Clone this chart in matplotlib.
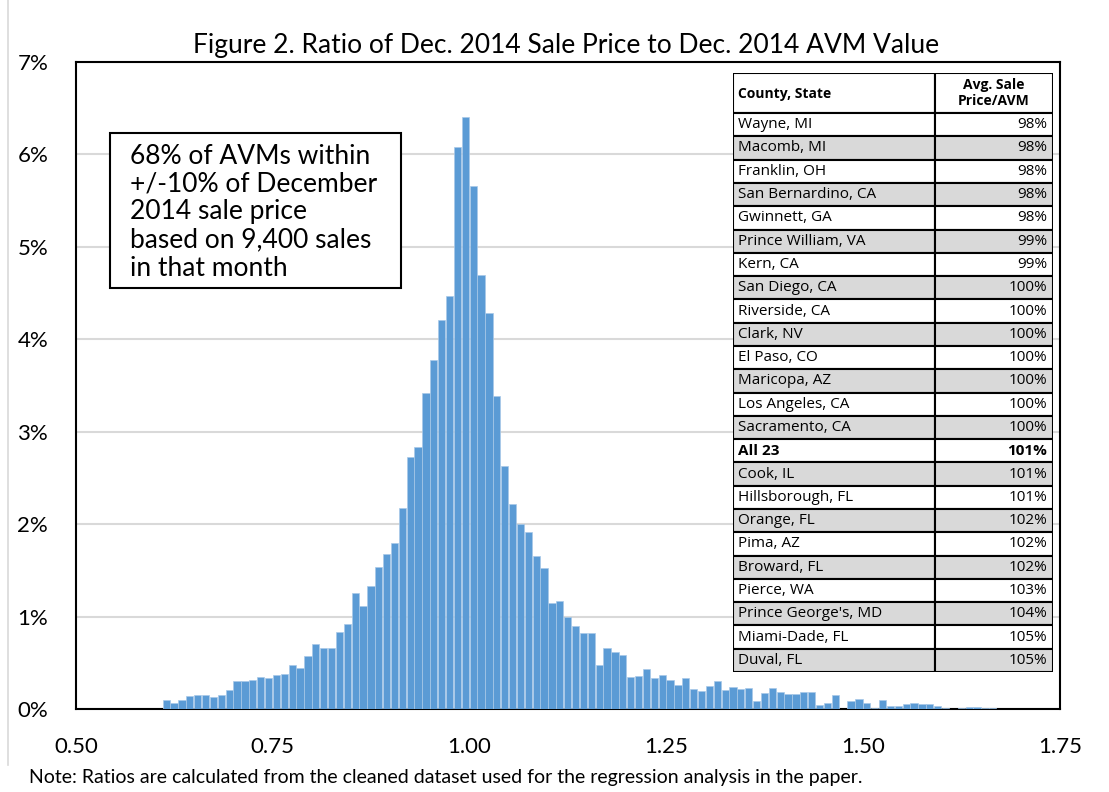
import numpy as np
import matplotlib
matplotlib.use("Agg")
import matplotlib.pyplot as plt
from matplotlib.patches import Rectangle

plt.rcParams['font.family'] = ['Lato', 'DejaVu Sans']

# histogram: lower edge of each 0.01-wide ratio bin and share of sales (%)
bin_width = 0.01
bin_lower = np.round(np.arange(0.61, 1.665, bin_width), 2)
share_pct = [0.10, 0.06, 0.10, 0.14, 0.15, 0.15, 0.13, 0.15, 0.21, 0.30,
             0.30, 0.31, 0.345, 0.335, 0.365, 0.375, 0.48, 0.44, 0.575, 0.70,
             0.665, 0.665, 0.835, 0.925, 1.25, 1.11, 1.335, 1.535, 1.68, 1.80,
             2.18, 2.73, 2.83, 3.42, 3.78, 4.21, 4.47, 6.08, 6.41, 5.66,
             4.70, 4.28, 3.39, 2.63, 2.22, 2.00, 1.92, 1.65, 1.53, 1.15,
             1.17, 1.00, 0.90, 0.82, 0.82, 0.48, 0.66, 0.62, 0.585, 0.35,
             0.36, 0.435, 0.34, 0.37, 0.315, 0.26, 0.335, 0.22, 0.19, 0.25,
             0.30, 0.21, 0.24, 0.22, 0.23, 0.09, 0.17, 0.23, 0.185, 0.165,
             0.165, 0.18, 0.18, 0.045, 0.07, 0.15, 0.005, 0.09, 0.105, 0.07,
             0.015, 0.095, 0.035, 0.035, 0.055, 0.07, 0.055, 0.055, 0.035, 0.008,
             0.0, 0.015, 0.025, 0.025, 0.008, 0.008]

x_ticks = [0.50, 0.75, 1.00, 1.25, 1.50, 1.75]
y_ticks = [0, 1, 2, 3, 4, 5, 6, 7]

counties = ["Wayne, MI", "Macomb, MI", "Franklin, OH", "San Bernardino, CA",
            "Gwinnett, GA", "Prince William, VA", "Kern, CA", "San Diego, CA",
            "Riverside, CA", "Clark, NV", "El Paso, CO", "Maricopa, AZ",
            "Los Angeles, CA", "Sacramento, CA", "All 23", "Cook, IL",
            "Hillsborough, FL", "Orange, FL", "Pima, AZ", "Broward, FL",
            "Pierce, WA", "Prince George's, MD", "Miami-Dade, FL", "Duval, FL"]
avg_ratio = [98, 98, 98, 98, 98, 99, 99, 100, 100, 100, 100, 100,
             100, 100, 101, 101, 101, 102, 102, 102, 103, 104, 105, 105]

W, H = 1109, 792
fig = plt.figure(figsize=(W / 100, H / 100), dpi=100)

def fx(px):
    return px / W

def fy(py):
    return 1 - py / H

ax = fig.add_axes([fx(76), fy(709), fx(1060) - fx(76), fy(62) - fy(709)])
ax.bar(bin_lower, share_pct, width=bin_width * 0.92, align='edge', color='#5B9BD5',
       edgecolor='#A9C9E8', linewidth=0.5, zorder=3)
ax.set_xlim(0.5, 1.75)
ax.set_ylim(0, 7)
ax.set_xticks(x_ticks)
ax.set_xticklabels([f"{v:.2f}" for v in x_ticks], fontsize=16)
ax.set_yticks(y_ticks)
ax.set_yticklabels([f"{v}%" for v in y_ticks], fontsize=16)
ax.tick_params(axis='y', length=0, pad=20)
ax.tick_params(axis='x', length=0, pad=20)
ax.grid(axis='y', color='#D9D9D9', linewidth=1.5, zorder=0)
for s in ax.spines.values():
    s.set_color('black')
    s.set_linewidth(1.5)

fig.text(fx(566), fy(45), "Figure 2. Ratio of Dec. 2014 Sale Price to Dec. 2014 AVM Value",
         ha='center', va='center', fontsize=19)

# annotation box
fig.patches.append(Rectangle((fx(110), fy(288)), fx(401) - fx(110), fy(133) - fy(288),
                             transform=fig.transFigure, facecolor='white',
                             edgecolor='black', linewidth=1.5, zorder=5))
fig.text(fx(130), fy(212), "68% of AVMs within\n+/-10% of December\n2014 sale price\n"
         "based on 9,400 sales\nin that month", ha='left', va='center',
         fontsize=19, linespacing=1.15, zorder=6)

# county table
tab = fig.add_axes([fx(733), fy(672), fx(1053) - fx(733), fy(73) - fy(672)])
hdr = 1.72
n = len(counties)
tab.set_xlim(0, 1)
tab.set_ylim(n + hdr, 0)
tab.axis('off')
split = 0.63
tf = ['Open Sans', 'DejaVu Sans']
tab.add_patch(Rectangle((0, 0), split, hdr, facecolor='white', edgecolor='black', lw=1.5))
tab.add_patch(Rectangle((split, 0), 1 - split, hdr, facecolor='white', edgecolor='black', lw=1.5))
tab.text(0.015, hdr / 2 + 0.05, "County, State", fontweight='bold', fontsize=10,
         family=tf, ha='left', va='center')
tab.text((1 + split) / 2, hdr / 2, "Avg. Sale\nPrice/AVM", fontweight='bold', fontsize=10,
         family=tf, ha='center', va='center', linespacing=1.1)
for i, (c, v) in enumerate(zip(counties, avg_ratio)):
    y0 = hdr + i
    fc = '#D9D9D9' if i % 2 == 1 else 'white'
    tab.add_patch(Rectangle((0, y0), split, 1, facecolor=fc, edgecolor='black', lw=1.5))
    tab.add_patch(Rectangle((split, y0), 1 - split, 1, facecolor=fc, edgecolor='black', lw=1.5))
    wt = 'bold' if c == "All 23" else 'normal'
    tab.text(0.015, y0 + 0.5, c, fontsize=11, fontweight=wt, family=tf,
             ha='left', va='center')
    tab.text(0.982, y0 + 0.5, f"{v}%", fontsize=11, fontweight=wt, family=tf,
             ha='right', va='center')

fig.text(fx(29), fy(778), "Note: Ratios are calculated from the cleaned dataset used for "
         "the regression analysis in the paper.", ha='left', va='center', fontsize=14)

fig.add_artist(plt.Line2D([fx(8), fx(8)], [fy(0), fy(765)], color='#D9D9D9', lw=1.2))

fig.savefig("out.png", dpi=100)
